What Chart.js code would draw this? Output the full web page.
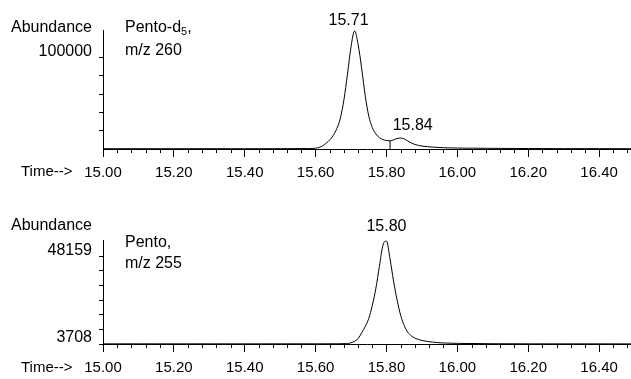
<!DOCTYPE html>
<html>
<head>
<meta charset="utf-8">
<script src="https://cdn.jsdelivr.net/npm/chart.js@4/dist/chart.umd.min.js"></script>
<style>
  html, body { margin:0; padding:0; background:#fff; }
  body { width:631px; height:379px; position:relative; overflow:hidden;
         font-family:"Liberation Sans", Arial, sans-serif; font-size:16px; color:#000; }
  .box { position:absolute; left:0; width:631px; }
  .t { position:absolute; line-height:18px; white-space:nowrap; }
  .s { font-size:15px; }
  sub { font-size:11px; vertical-align:-3px; line-height:0; }
</style>
</head>
<body>
<div class="box" style="top:0;height:190px"><canvas id="c1"></canvas></div>
<div class="box" style="top:190px;height:189px"><canvas id="c2"></canvas></div>

<div class="t" style="left:11px;top:18px">Abundance</div>
<div class="t" style="left:125px;top:18px">Pento-d<sub>5</sub>,</div>
<div class="t" style="left:125px;top:41px">m/z 260</div>
<div class="t s" style="left:21px;top:162px">Time--&gt;</div>

<div class="t" style="left:11px;top:216px">Abundance</div>
<div class="t" style="left:125px;top:233px">Pento,</div>
<div class="t" style="left:125px;top:254px">m/z 255</div>
<div class="t s" style="left:21px;top:358px">Time--&gt;</div>

<script>
// ---------- DATA ----------
const topTimes = [15.00, 15.10, 15.20, 15.30, 15.40, 15.50, 15.58, 15.60, 15.62, 15.64, 15.65, 15.66, 15.67, 15.68, 15.69, 15.70, 15.71, 15.72, 15.73, 15.74, 15.75, 15.76, 15.77, 15.78, 15.79, 15.80, 15.81, 15.82, 15.83, 15.84, 15.85, 15.86, 15.87, 15.88, 15.90, 15.93, 15.96, 16.00, 16.10, 16.20, 16.30, 16.40, 16.49];
const topValues = [300, 350, 300, 350, 300, 350, 500, 900, 3500, 10000, 15000, 22500, 34000, 54000, 82000, 112000, 129000, 114000, 88000, 58000, 36000, 23500, 16500, 12500, 10300, 9300, 8900, 10000, 11500, 12000, 11000, 8800, 6600, 5000, 3200, 2100, 1400, 1000, 700, 500, 400, 400, 300];

const bottomTimes = [15.00, 15.10, 15.20, 15.30, 15.40, 15.50, 15.60, 15.66, 15.69, 15.70, 15.71, 15.72, 15.73, 15.74, 15.75, 15.76, 15.77, 15.78, 15.79, 15.80, 15.81, 15.82, 15.83, 15.84, 15.85, 15.86, 15.87, 15.88, 15.90, 15.93, 15.96, 16.00, 16.10, 16.20, 16.30, 16.40, 16.49];
const bottomValues = [3780, 3800, 3780, 3800, 3780, 3800, 3800, 3820, 3910, 4340, 5090, 6480, 9360, 12560, 16620, 23240, 31790, 43000, 53700, 55800, 46700, 35500, 25900, 18200, 13100, 9680, 7860, 6690, 5510, 4660, 4230, 4020, 3850, 3800, 3780, 3780, 3760];

// integration marker between the two peaks of the upper trace
const topMarkerTime = [15.81, 15.81];
const topMarkerValue = [0, 8900];

const topPeakTimes = [15.71, 15.84];
const topPeakTexts = ["15.71", "15.84"];
const bottomPeakTimes = [15.80];
const bottomPeakTexts = ["15.80"];

const xMajorTicks = [15.00, 15.20, 15.40, 15.60, 15.80, 16.00, 16.20, 16.40];
const xMinorTicks = [15.04, 15.08, 15.12, 15.16, 15.24, 15.28, 15.32, 15.36, 15.44, 15.48, 15.52, 15.56,
                     15.64, 15.68, 15.72, 15.76, 15.84, 15.88, 15.92, 15.96, 16.04, 16.08, 16.12, 16.16,
                     16.24, 16.28, 16.32, 16.36, 16.44, 16.48];
const topYMajor = [100000];
const topYMinor = [20000, 40000, 60000, 80000];
const bottomYMajor = [3708, 48159];
const bottomYMinor = [11116, 18525, 25933, 33342, 40750];

// ---------- STYLE / LAYOUT ----------
Chart.defaults.font.family = '"Liberation Sans", Arial, sans-serif';
Chart.defaults.font.size = 16;
Chart.defaults.color = '#000';

const minorXPlugin = {
  id: 'minorX',
  afterDraw(chart) {
    const s = chart.scales.x, c = chart.ctx;
    c.save(); c.strokeStyle = '#000'; c.lineWidth = 1; c.beginPath();
    for (const v of xMinorTicks) {
      if (v < s.min || v > s.max) continue;
      const px = Math.round(s.getPixelForValue(v)) + 0.5;
      c.moveTo(px, s.top); c.lineTo(px, s.top + 4);
    }
    c.stroke(); c.restore();
  }
};

const peakLabelPlugin = {
  id: 'peakLabels',
  afterDraw(chart, args, o) {
    const xs = chart.scales.x, ys = chart.scales.y, c = chart.ctx;
    c.save();
    c.font = '16px "Liberation Sans", Arial, sans-serif';
    c.fillStyle = '#000'; c.textAlign = 'center'; c.textBaseline = 'bottom';
    o.times.forEach((t, i) => {
      const v = o.values[o.src.indexOf(t)];
      c.fillText(o.texts[i], xs.getPixelForValue(t) + o.dx[i], ys.getPixelForValue(v) - o.gap[i]);
    });
    c.restore();
  }
};

function makeChart(id, cfg) {
  const allY = cfg.yMinor.concat(cfg.yMajor);
  const datasets = [{
    data: cfg.times.map((t, i) => ({ x: t, y: cfg.values[i] })),
    borderColor: '#000', borderWidth: 1, pointRadius: 0, fill: false,
    cubicInterpolationMode: 'monotone'
  }];
  if (cfg.markerT) {
    datasets.push({
      data: cfg.markerT.map((t, i) => ({ x: t, y: cfg.markerV[i] })),
      borderColor: '#000', borderWidth: 1, pointRadius: 0, fill: false
    });
  }
  return new Chart(document.getElementById(id), {
    type: 'line',
    data: { datasets },
    plugins: [minorXPlugin, peakLabelPlugin],
    options: {
      responsive: true, maintainAspectRatio: false, animation: false,
      layout: { padding: { top: cfg.padTop, right: 0, bottom: 0, left: 0 } },
      plugins: {
        legend: { display: false }, tooltip: { enabled: false },
        peakLabels: { times: cfg.peakT, texts: cfg.peakTxt, src: cfg.times, values: cfg.values, dx: cfg.peakDx, gap: cfg.peakGap }
      },
      scales: {
        x: {
          type: 'linear', position: 'bottom', min: 15.0, max: 16.49,
          afterBuildTicks: s => { s.ticks = xMajorTicks.map(v => ({ value: v })); },
          afterFit: s => { s.height = cfg.xHeight; },
          ticks: { autoSkip: false, maxRotation: 0, padding: 7, color: '#000', font: { size: 15 },
                   callback: v => Number(v).toFixed(2) },
          grid: { drawOnChartArea: false, tickLength: 8, color: '#000', tickColor: '#000' },
          border: { display: true, color: '#000', width: 1 }
        },
        y: {
          type: 'linear', min: cfg.yMin, max: cfg.yMax,
          afterBuildTicks: s => { s.ticks = allY.map(v => ({ value: v })); },
          afterFit: s => { s.width = 103; },
          ticks: { autoSkip: false, padding: 7, color: '#000', labelOffset: -6,
                   callback: v => cfg.yMajor.includes(v) ? String(v) : '' },
          grid: { drawOnChartArea: false, tickLength: 4, color: '#000', tickColor: '#000' },
          border: { display: true, color: '#000', width: 1 }
        }
      }
    }
  });
}

makeChart('c1', {
  times: topTimes, values: topValues, markerT: topMarkerTime, markerV: topMarkerValue,
  peakT: topPeakTimes, peakTxt: topPeakTexts, peakDx: [-6, 12], peakGap: [2, 4],
  yMin: 0, yMax: 130000, yMajor: topYMajor, yMinor: topYMinor,
  padTop: 30, xHeight: 41
});
makeChart('c2', {
  times: bottomTimes, values: bottomValues,
  peakT: bottomPeakTimes, peakTxt: bottomPeakTexts, peakDx: [0], peakGap: [6],
  yMin: 3708, yMax: 56300, yMajor: bottomYMajor, yMinor: bottomYMinor,
  padTop: 50, xHeight: 35
});
</script>
</body>
</html>
